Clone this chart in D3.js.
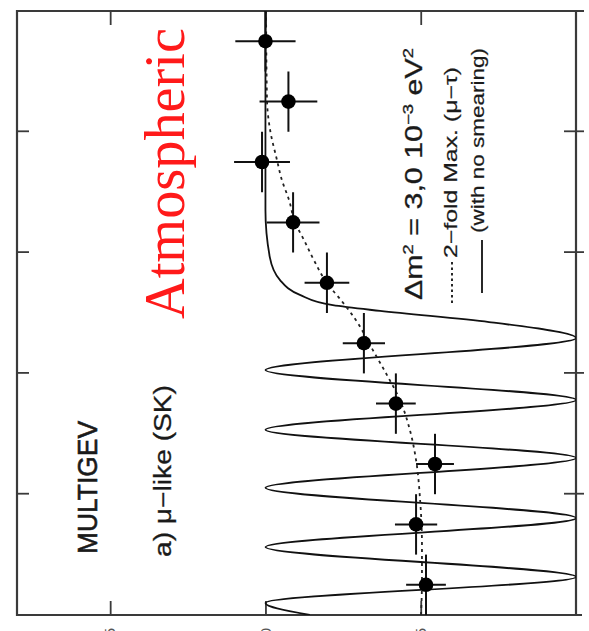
<!DOCTYPE html>
<html>
<head>
<meta charset="utf-8">
<script src="https://cdn.jsdelivr.net/npm/d3@7"></script>
<style>
  html, body { margin: 0; padding: 0; background: #fff; }
  svg { display: block; }
</style>
</head>
<body>
<svg id="chart" width="589" height="631"></svg>
<script>
// ---------------- DATA ----------------
// zenith-angle bins (cos theta), bin centres
const cosCenters = [0.9, 0.7, 0.5, 0.3, 0.1, -0.1, -0.3, -0.5, -0.7, -0.9];
const cosHalfBin = [0.1, 0.1, 0.1, 0.1, 0.1, 0.1, 0.1, 0.1, 0.1, 0.1];
// data / no-oscillation MC ratio and errors
const ratio    = [1.00, 0.926, 1.011, 0.911, 0.802, 0.683, 0.580, 0.454, 0.515, 0.483];
const ratioErr = [0.097, 0.093, 0.090, 0.085, 0.072, 0.068, 0.064, 0.061, 0.068, 0.064];

// solid curve (no smearing): cos theta, survival
const solidCos = [1.0, 0.341, 0.185, 0.109, 0.060, 0.026, 0.007, -0.030, -0.083,
                  -0.189, -0.288, -0.387, -0.480, -0.579, -0.679, -0.775, -0.874, -0.960, -1.0];
const solidVal = [1.0, 1.0, 0.986, 0.953, 0.889, 0.783, 0.631, 0.28, 0.0,
                  1.0, 0.0, 1.0, 0.0, 1.0, 0.0, 1.0, 0.0, 1.0, 0.857];

// dashed curve (2-fold maximal mixing, smeared)
const dashCos = [1.0, 0.705, 0.606, 0.507, 0.440, 0.374, 0.301, 0.242, 0.175, 0.099,
                 0.043, -0.023, -0.123, -0.205, -0.288, -0.387, -0.487, -0.619, -0.768, -0.884, -1.0];
const dashVal = [0.998, 0.995, 0.985, 0.963, 0.947, 0.924, 0.905, 0.876, 0.844, 0.802,
                 0.757, 0.709, 0.654, 0.609, 0.567, 0.535, 0.515, 0.502, 0.496, 0.496, 0.499];

// axis ticks
const cosTicks = [-0.6, -0.2, 0.2, 0.6];
const valTicks = [0.5, 1.0, 1.5];
const valTickLabels = ["0.5", "1.0", "1.5"];

// ---------------- LAYOUT ----------------
const svg = d3.select("#chart");
svg.append("rect").attr("width", 589).attr("height", 631).attr("fill", "#fff");

// The whole figure is drawn in its own orientation and then turned by -90 degrees
const PW = 604;
const g = svg.append("g").attr("transform", "translate(0,615) rotate(-90)");

const x = d3.scaleLinear().domain([-1, 1]).range([0, PW]);
const y = d3.scaleLinear().domain([0, 1.8]).range([576, 17]);
const Y0 = y(0), Y1 = y(1.8);

const frameCol = "#3a3a3a";

function styleAxis(sel) {
  sel.selectAll(".domain").remove();
  sel.selectAll(".tick line").attr("stroke", frameCol).attr("stroke-width", 1.8);
}
g.append("g").attr("transform", `translate(0,${Y0})`)
  .call(d3.axisBottom(x).tickValues(cosTicks).tickSizeInner(8).tickSizeOuter(0).tickFormat(""))
  .call(styleAxis);
g.append("g").attr("transform", `translate(0,${Y0})`)
  .call(d3.axisTop(x).tickValues(cosTicks).tickSizeInner(12).tickSizeOuter(0).tickFormat(""))
  .call(styleAxis);
g.append("g").attr("transform", `translate(0,${Y1})`)
  .call(d3.axisBottom(x).tickValues(cosTicks).tickSizeInner(12).tickSizeOuter(0).tickFormat(""))
  .call(styleAxis);
g.append("g").attr("transform", `translate(0,0)`)
  .call(d3.axisRight(y).tickValues(valTicks).tickSizeInner(14).tickSizeOuter(0).tickFormat(""))
  .call(styleAxis);
const lab = g.append("g").attr("transform", `translate(0,0)`)
  .call(d3.axisLeft(y).tickValues(valTicks).tickSizeInner(0).tickSizeOuter(0).tickPadding(13)
        .tickFormat((d, i) => valTickLabels[i]));
lab.selectAll(".domain").remove();
lab.selectAll("text").attr("font-family", "Liberation Sans, Arial, sans-serif")
  .attr("font-size", 15).attr("fill", "#555");
g.append("g").attr("transform", `translate(${PW},0)`)
  .call(d3.axisLeft(y).tickValues(valTicks).tickSizeInner(14).tickSizeOuter(0).tickFormat(""))
  .call(styleAxis);

// ---- frame ----
g.append("path")
  .attr("d", `M0,${Y0 + 6}L0,${Y1}L${PW},${Y1}L${PW},${Y0 + 8}M0,${Y0}L${PW},${Y0}`)
  .attr("fill", "none").attr("stroke", frameCol).attr("stroke-width", 2.2);

// ---- clip ----
svg.append("defs").append("clipPath").attr("id", "plotclip")
  .append("rect").attr("x", 0).attr("y", Y1).attr("width", PW).attr("height", Y0 - Y1);
const plot = g.append("g").attr("clip-path", "url(#plotclip)");

// ---- curves ----
const solidPts = solidCos.map((c, i) => [x(c), y(solidVal[i])]);
plot.append("path")
  .attr("d", d3.line().curve(d3.curveMonotoneX)(solidPts.slice().reverse()))
  .attr("fill", "none").attr("stroke", "#111").attr("stroke-width", 1.8);

const dashPts = dashCos.map((c, i) => [x(c), y(dashVal[i])]);
plot.append("path")
  .attr("d", d3.line().curve(d3.curveMonotoneX)(dashPts.slice().reverse()))
  .attr("fill", "none").attr("stroke", "#222").attr("stroke-width", 1.8)
  .attr("stroke-dasharray", "3,4");

// ---- data points with error bars ----
const pts = cosCenters.map((c, i) => ({c, h: cosHalfBin[i], v: ratio[i], e: ratioErr[i]}));
const pg = plot.append("g");
pg.selectAll("line.xb").data(pts).join("line")
  .attr("x1", d => x(d.c - d.h)).attr("x2", d => x(d.c + d.h))
  .attr("y1", d => y(d.v)).attr("y2", d => y(d.v))
  .attr("stroke", "#111").attr("stroke-width", 2);
pg.selectAll("line.yb").data(pts).join("line")
  .attr("x1", d => x(d.c)).attr("x2", d => x(d.c))
  .attr("y1", d => y(d.v - d.e)).attr("y2", d => y(d.v + d.e))
  .attr("stroke", "#111").attr("stroke-width", 2);
pg.selectAll("circle").data(pts).join("circle")
  .attr("cx", d => x(d.c)).attr("cy", d => y(d.v)).attr("r", 7.3).attr("fill", "#000");

// ---- texts (figure frame: X = 615 - imageY, Y = imageX) ----
const sans = "Liberation Sans, Arial, Helvetica, sans-serif";
g.append("text").attr("x", 296).attr("y", 184)
  .attr("font-family", "Liberation Serif, Times New Roman, serif")
  .attr("font-size", 57).attr("fill", "#ff1a1a")
  .attr("textLength", 291).attr("lengthAdjust", "spacingAndGlyphs")
  .text("Atmospheric");

g.append("text").attr("x", 61).attr("y", 97)
  .attr("font-family", sans).attr("font-size", 28).attr("fill", "#1a1a1a")
  .attr("stroke", "#1a1a1a").attr("stroke-width", 0.6)
  .attr("textLength", 133).attr("lengthAdjust", "spacingAndGlyphs")
  .text("MULTIGEV");

g.append("text").attr("x", 58).attr("y", 171)
  .attr("font-family", sans).attr("font-size", 23).attr("fill", "#1a1a1a")
  .attr("stroke", "#1a1a1a").attr("stroke-width", 0.3)
  .attr("textLength", 172).attr("lengthAdjust", "spacingAndGlyphs")
  .text("a) μ−like (SK)");

// legend
const l1 = g.append("text").attr("x", 315).attr("y", 422)
  .attr("font-family", sans).attr("font-size", 23).attr("fill", "#1a1a1a")
  .attr("stroke", "#1a1a1a").attr("stroke-width", 0.3)
  .attr("textLength", 252).attr("lengthAdjust", "spacingAndGlyphs");
l1.append("tspan").text("Δm");
l1.append("tspan").attr("dy", -9).attr("font-size", 14).text("2");
l1.append("tspan").attr("dy", 9).text(" = 3,0  10");
l1.append("tspan").attr("dy", -9).attr("font-size", 14).text("−3");
l1.append("tspan").attr("dy", 9).text(" eV");
l1.append("tspan").attr("dy", -9).attr("font-size", 14).text("2");

g.append("line").attr("x1", 312).attr("x2", 355).attr("y1", 452).attr("y2", 452)
  .attr("stroke", "#111").attr("stroke-width", 1.8).attr("stroke-dasharray", "2.5,3");
g.append("text").attr("x", 357).attr("y", 457)
  .attr("font-family", sans).attr("font-size", 18).attr("fill", "#1a1a1a")
  .attr("stroke", "#1a1a1a").attr("stroke-width", 0.2)
  .attr("textLength", 191).attr("lengthAdjust", "spacingAndGlyphs")
  .text("2−fold Max. (μ−τ)");

g.append("line").attr("x1", 322).attr("x2", 375).attr("y1", 482).attr("y2", 482)
  .attr("stroke", "#111").attr("stroke-width", 1.8);
g.append("text").attr("x", 382).attr("y", 484)
  .attr("font-family", sans).attr("font-size", 18).attr("fill", "#1a1a1a")
  .attr("stroke", "#1a1a1a").attr("stroke-width", 0.2)
  .attr("textLength", 185).attr("lengthAdjust", "spacingAndGlyphs")
  .text("(with no smearing)");
</script>
</body>
</html>
